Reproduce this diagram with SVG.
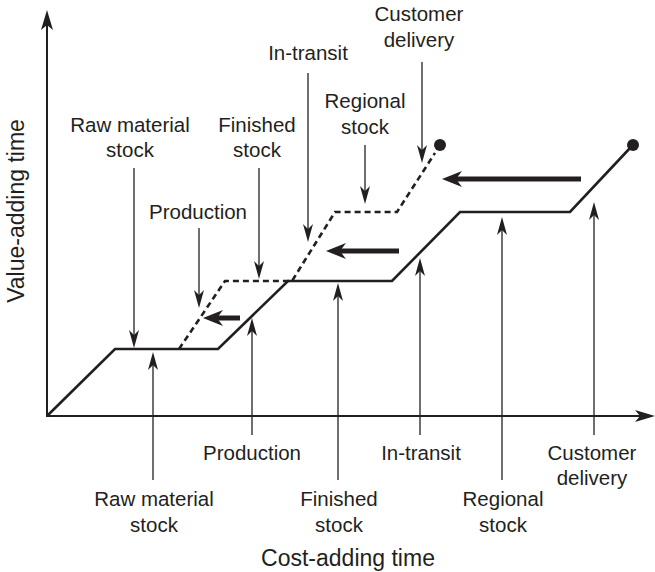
<svg xmlns="http://www.w3.org/2000/svg" width="655" height="572" viewBox="0 0 655 572">
<style>
text{font-family:"Liberation Sans",Arial,Helvetica,sans-serif;font-size:20.5px;fill:#231f20;text-anchor:middle}
.axl{font-size:23px}
.thin{stroke:#231f20;stroke-width:1.3;fill:none;marker-end:url(#ah)}
.thick{stroke:#231f20;stroke-width:5;fill:none;marker-end:url(#th)}
.axis{stroke:#231f20;stroke-width:2;fill:none;marker-end:url(#ax)}
.solid{stroke:#231f20;stroke-width:2.6;fill:none;stroke-linejoin:miter}
.dash{stroke:#231f20;stroke-width:2.6;fill:none;stroke-dasharray:6 4}
</style>
<defs>
<marker id="ah" markerUnits="userSpaceOnUse" markerWidth="20" markerHeight="12" refX="8" refY="5" orient="auto"><path d="M0,0 L18,5 L0,10 L5,5 Z" fill="#231f20"/></marker>
<marker id="th" markerUnits="userSpaceOnUse" markerWidth="22" markerHeight="18" refX="8" refY="8" orient="auto"><path d="M0,0 L20,8 L0,16 L6,8 Z" fill="#231f20"/></marker>
<marker id="ax" markerUnits="userSpaceOnUse" markerWidth="22" markerHeight="14" refX="8" refY="6" orient="auto"><path d="M0,0 L20,6 L0,12 L5,6 Z" fill="#231f20"/></marker>
</defs>
<g id="axes">
<line class="axis" x1="47" y1="417" x2="47" y2="22"/>
<line class="axis" x1="46" y1="416" x2="643" y2="416"/>
<text class="axl" transform="translate(24 211) rotate(-90)">Value-adding time</text>
<text class="axl" x="348" y="566">Cost-adding time</text>
</g>
<g id="curves">
<polyline class="solid" points="47,416 115,349 218,349 288,281 392,281 460,212 570,212 631,147"/>
<circle cx="633" cy="145" r="6" fill="#231f20"/>
<polyline class="dash" points="179,349 225,281 292,281 335,212 397,212 435,153"/>
<circle cx="440" cy="145" r="6" fill="#231f20"/>
</g>
<g id="connectors">
<line class="thick" x1="240" y1="318" x2="215" y2="318"/>
<line class="thick" x1="399" y1="251" x2="338" y2="251"/>
<line class="thick" x1="581" y1="179" x2="454" y2="179"/>
</g>
<g id="top-raw-material-stock">
<text x="130" y="132">Raw material</text><text x="130" y="157">stock</text>
<line class="thin" x1="134" y1="168" x2="134" y2="338"/>
</g>
<g id="top-production">
<text x="198" y="219">Production</text>
<line class="thin" x1="199" y1="228" x2="199" y2="298"/>
</g>
<g id="top-finished-stock">
<text x="257" y="132">Finished</text><text x="257" y="157">stock</text>
<line class="thin" x1="259" y1="168" x2="259" y2="269"/>
</g>
<g id="top-in-transit">
<text x="308" y="60">In-transit</text>
<line class="thin" x1="308" y1="73" x2="308" y2="232"/>
</g>
<g id="top-regional-stock">
<text x="365" y="108">Regional</text><text x="365" y="134">stock</text>
<line class="thin" x1="365" y1="145" x2="365" y2="194"/>
</g>
<g id="top-customer-delivery">
<text x="419" y="21">Customer</text><text x="419" y="47">delivery</text>
<line class="thin" x1="422" y1="62" x2="422" y2="153"/>
</g>
<g id="bottom-raw-material-stock">
<line class="thin" x1="153" y1="480" x2="153" y2="362"/>
<text x="154" y="506">Raw material</text><text x="154" y="532">stock</text>
</g>
<g id="bottom-production">
<line class="thin" x1="252" y1="435" x2="252" y2="328"/>
<text x="252" y="460">Production</text>
</g>
<g id="bottom-finished-stock">
<line class="thin" x1="338" y1="480" x2="338" y2="293"/>
<text x="339" y="506">Finished</text><text x="339" y="532">stock</text>
</g>
<g id="bottom-in-transit">
<line class="thin" x1="420" y1="435" x2="420" y2="268"/>
<text x="421" y="460">In-transit</text>
</g>
<g id="bottom-regional-stock">
<line class="thin" x1="502" y1="480" x2="502" y2="227"/>
<text x="503" y="506">Regional</text><text x="503" y="532">stock</text>
</g>
<g id="bottom-customer-delivery">
<line class="thin" x1="594" y1="435" x2="594" y2="212"/>
<text x="592" y="460">Customer</text><text x="592" y="485">delivery</text>
</g>
</svg>
